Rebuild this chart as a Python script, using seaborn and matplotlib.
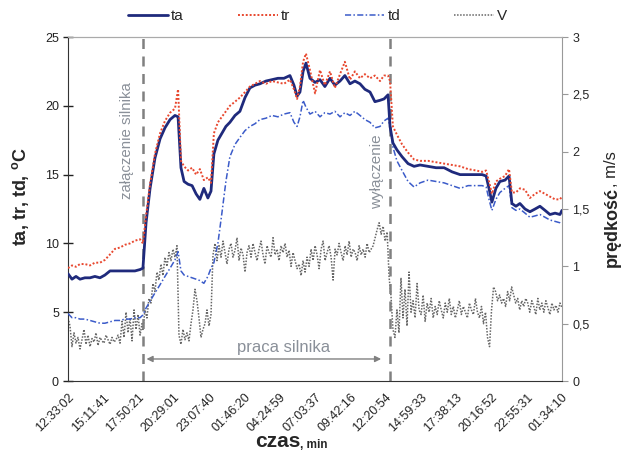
import matplotlib
matplotlib.use("Agg")
import matplotlib.pyplot as plt
import numpy as np
import seaborn as sns

# time of temperature samples, minutes from 12:33:02
temp_time = [0, 18, 36, 54, 76, 99, 121, 144, 166, 189, 211, 234, 256, 279, 301, 324,
             337, 351, 369, 391, 414, 436, 459, 481, 495, 508, 522, 540, 558, 576, 593,
             611, 629, 643, 656, 674, 692, 710, 728, 751, 773, 796, 818, 841, 863, 890,
             917, 944, 971, 998, 1016, 1030, 1043, 1057, 1070, 1088, 1111, 1133, 1155,
             1178, 1200, 1223, 1245, 1268, 1290, 1313, 1335, 1358, 1380, 1403, 1421,
             1439, 1448, 1461, 1479, 1502, 1529, 1556, 1583, 1619, 1655, 1691, 1727,
             1763, 1799, 1835, 1862, 1880, 1893, 1906, 1924, 1942, 1965, 1983, 1996,
             2014, 2032, 2055, 2077, 2100, 2122, 2145, 2167, 2190, 2212, 2221]

ta = [7.8, 7.4, 7.6, 7.4, 7.5, 7.5, 7.6, 7.5, 7.7, 8.0, 8.0, 8.0, 8.0, 8.0, 8.0, 8.1,
      8.2, 11.5, 14.0, 16.2, 17.6, 18.4, 19.0, 19.3, 19.2, 15.5, 14.5, 14.3, 14.2, 13.6,
      13.2, 14.0, 13.3, 13.8, 16.5, 17.5, 18.0, 18.5, 18.8, 19.3, 19.6, 20.6, 21.3, 21.5,
      21.6, 21.8, 21.9, 22.0, 22.0, 22.2, 21.5, 20.7, 21.0, 22.5, 23.1, 22.0, 21.7, 21.9,
      21.4, 22.0, 21.5, 21.8, 22.2, 21.6, 21.8, 21.6, 21.2, 21.0, 20.3, 20.4, 20.5, 20.8,
      18.5, 17.3, 16.8, 16.3, 15.8, 15.6, 15.7, 15.6, 15.5, 15.5, 15.2, 15.0, 15.0, 15.0,
      15.0, 14.9, 14.0, 13.0, 14.0, 14.5, 14.6, 14.9, 12.9, 12.7, 12.9, 12.5, 12.3, 12.5,
      12.7, 12.4, 12.1, 12.2, 12.1, 12.4]

tr = [8.2, 8.4, 8.3, 8.5, 8.5, 8.4, 8.6, 8.6, 8.8, 9.2, 9.6, 9.7, 9.9, 10.0, 10.2, 10.3,
      10.0, 12.0, 14.3, 16.5, 18.0, 18.9, 19.5, 19.8, 21.2, 16.0, 15.6, 15.3, 15.5, 15.0,
      15.4, 14.6, 14.8, 14.4, 18.0, 18.8, 19.2, 19.6, 20.0, 20.3, 20.6, 21.0, 21.4, 21.6,
      21.8, 21.6, 21.8, 21.7, 21.6, 21.9, 21.2, 20.5, 21.4, 23.2, 23.8, 22.6, 20.9, 22.6,
      21.5, 22.5, 21.3, 22.3, 23.2, 21.9, 22.5, 22.0, 22.3, 22.0, 22.2, 21.8, 22.2, 22.2,
      21.8, 18.5, 17.9, 17.2, 16.6, 16.1, 16.0, 16.0, 15.9, 15.8, 15.7, 15.6, 15.4, 15.3,
      15.2, 15.3, 14.5, 13.6, 14.5, 14.7, 14.9, 15.4, 13.7, 13.7, 14.0, 13.9, 13.3, 13.6,
      13.8, 13.6, 13.4, 13.2, 13.2, 13.4]

td = [4.9, 4.6, 4.6, 4.5, 4.5, 4.4, 4.3, 4.2, 4.2, 4.3, 4.4, 4.4, 4.5, 4.5, 4.6, 4.6,
      4.8, 5.3, 5.8, 6.4, 7.0, 7.6, 8.2, 8.8, 9.4, 8.0, 7.7, 7.6, 7.5, 7.4, 7.3, 7.1, 7.6,
      8.2, 8.6, 10.0, 12.2, 14.5, 16.3, 17.2, 17.7, 18.2, 18.5, 18.7, 19.0, 19.1, 19.3,
      19.2, 19.4, 19.5, 18.8, 18.5, 19.2, 20.4, 19.9, 19.4, 19.6, 19.2, 19.5, 19.4, 19.6,
      19.2, 19.5, 19.3, 19.6, 19.3, 19.0, 18.8, 18.4, 18.5, 18.9, 19.1, 18.5, 17.0, 16.0,
      15.3, 14.5, 14.1, 14.4, 14.6, 14.5, 14.4, 14.2, 14.0, 14.2, 14.2, 14.2, 14.1, 13.2,
      12.4, 13.2, 13.7, 14.0, 14.2, 12.6, 12.4, 12.5, 12.2, 11.9, 12.0, 12.1, 11.9, 11.7,
      11.6, 11.5, 11.4]

# wind speed V [m/s] in three periods: before, during and after engine work
v_before = [0.55, 0.48, 0.30, 0.42, 0.33, 0.38, 0.28, 0.36, 0.45, 0.32, 0.40, 0.30, 0.37,
            0.34, 0.42, 0.31, 0.38, 0.35, 0.33, 0.40, 0.36, 0.32, 0.38, 0.34, 0.36, 0.40,
            0.33, 0.52, 0.38, 0.60, 0.42, 0.55, 0.35, 0.62, 0.45, 0.58, 0.40, 0.50]
v_run = [0.45, 0.62, 0.55, 0.72, 0.68, 0.85, 0.78, 0.95, 0.88, 1.02, 0.92, 1.08, 1.00, 1.12,
         1.05, 1.15, 1.08, 1.18,
         0.40, 0.32, 0.45, 0.36, 0.42, 0.35, 0.50, 0.62, 0.80, 0.70, 0.55, 0.38, 0.45, 0.50,
         0.62, 0.48, 0.58,
         1.10, 1.20, 1.05, 1.18, 1.08, 1.22, 1.12, 1.02, 1.15, 1.20, 1.08, 1.14, 1.25, 1.05,
         1.16, 1.10, 0.95, 1.12, 1.18,
         1.08, 1.20, 1.12, 1.05, 1.15, 1.22, 1.10, 1.02, 1.18, 1.12, 1.08, 1.25, 1.10, 1.15,
         1.05, 1.18, 1.12, 1.20, 1.08, 1.14, 1.00, 1.12, 1.05, 0.98,
         1.02, 0.92, 1.05, 0.95, 1.08, 1.00, 1.15, 1.05, 1.18, 1.10, 0.98, 1.15, 1.22, 1.05,
         1.12, 1.18, 1.08, 0.88, 1.15, 1.10, 1.20,
         1.12, 1.05, 1.18, 1.10, 1.22, 1.08, 1.15, 1.12, 1.05, 1.18, 1.10, 1.15, 1.08, 1.20,
         1.12, 1.15, 1.18, 1.25, 1.32, 1.38, 1.28, 1.35, 1.22, 1.30, 0.90]
v_after = [0.75, 0.45, 0.38, 0.62, 0.42, 0.90, 0.55, 0.80, 0.48, 0.95, 0.60,
           0.70, 0.55, 0.85, 0.62, 0.58, 0.75, 0.52, 0.68, 0.60, 0.72, 0.55, 0.65, 0.58,
           0.70, 0.62, 0.55, 0.68, 0.60, 0.72, 0.58, 0.65, 0.55, 0.62, 0.70, 0.58, 0.65,
           0.60, 0.55, 0.68, 0.62, 0.58, 0.72, 0.60, 0.55, 0.65, 0.50, 0.60,
           0.38, 0.30, 0.62, 0.82,
           0.78, 0.70, 0.75, 0.68, 0.72, 0.65, 0.78, 0.70, 0.82, 0.75, 0.68, 0.72, 0.62,
           0.70, 0.65, 0.72, 0.68, 0.60, 0.70, 0.65, 0.58, 0.72, 0.62, 0.68, 0.60, 0.70,
           0.64, 0.58, 0.68, 0.62, 0.66, 0.60, 0.68, 0.64]

engine_on = 337    # minutes
engine_off = 1448
total_time = 2221.1

time_labels = ["12:33:02", "15:11:41", "17:50:21", "20:29:01", "23:07:40", "01:46:20",
               "04:24:59", "07:03:37", "09:42:16", "12:20:54", "14:59:33", "17:38:13",
               "20:16:52", "22:55:31", "01:34:10"]

TA_COLOR = "#1f2a7c"
TR_COLOR = "#e8472e"
TD_COLOR = "#3b5bc9"
V_COLOR = "#666666"
NOTE_COLOR = "#8a9099"

sns.set_style("white")
plt.rcParams["font.family"] = ["Liberation Sans", "DejaVu Sans"]

fig = plt.figure(figsize=(6.22, 4.57), dpi=100)
ax = fig.add_axes([0.1093, 0.1663, 0.7942, 0.7527])
ax2 = ax.twinx()

v_time = np.concatenate([
    np.linspace(0, engine_on - 4, len(v_before)),
    np.linspace(engine_on, engine_off - 4, len(v_run)),
    np.linspace(engine_off + 4, total_time, len(v_after)),
])
v_speed = v_before + v_run + v_after

sns.lineplot(x=v_time, y=v_speed, ax=ax2, color=V_COLOR, lw=1.1,
             linestyle=(0, (1, 1)), label="V", legend=False)
sns.lineplot(x=temp_time, y=td, ax=ax, color=TD_COLOR, lw=1.1,
             linestyle=(0, (4, 1.5, 1, 1.5)), label="td", legend=False, zorder=3)
sns.lineplot(x=temp_time, y=ta, ax=ax, color=TA_COLOR, lw=2.0, label="ta",
             legend=False, zorder=4)
sns.lineplot(x=temp_time, y=tr, ax=ax, color=TR_COLOR, lw=1.4,
             linestyle=(0, (1, 1)), label="tr", legend=False, zorder=5)

ax.set_zorder(ax2.get_zorder() + 1)
ax.patch.set_visible(False)

# engine on / off markers
for x in (engine_on, engine_off):
    ax.axvline(x, color="#808080", lw=1.8, ls=(0, (4, 3)), zorder=2)
ax.annotate("", xy=(engine_on + 16, 1.6), xytext=(engine_off - 40, 1.6),
            arrowprops=dict(arrowstyle="<|-|>", color="#808080", lw=1.0,
                            mutation_scale=9, shrinkA=0, shrinkB=0))
ax.text(971, 2.4, "praca silnika", color=NOTE_COLOR, fontsize=12,
        ha="center", va="center")
ax.text(265, 17.5, "załączenie silnika", color=NOTE_COLOR, fontsize=10.8,
        rotation=90, ha="center", va="center")
ax.text(1390, 15.2, "wyłączenie", color=NOTE_COLOR, fontsize=11,
        rotation=90, ha="center", va="center")

ax.set_xlim(0, total_time)
ax.set_ylim(0, 25)
ax2.set_ylim(0, 3)

ticks = np.linspace(0, total_time, 2 * len(time_labels) - 1)
labels = [time_labels[i // 2] if i % 2 == 0 else "" for i in range(len(ticks))]
ax.set_xticks(ticks)
ax.set_xticklabels(labels, rotation=45, ha="right", rotation_mode="anchor")
ax.set_yticks(range(0, 26, 5))
ax.tick_params(axis="both", direction="inout", length=7, width=1, colors="#222222",
               labelsize=9, pad=3)
ax.tick_params(axis="x", labelsize=9, pad=4)

v_ticks = [0, 0.5, 1, 1.5, 2, 2.5, 3]
ax2.set_yticks(v_ticks)
ax2.set_yticklabels([f"{t:g}".replace(".", ",") for t in v_ticks], fontsize=9)
ax2.tick_params(axis="y", direction="out", length=4, color="#999999", labelsize=9)

for name in ("left", "bottom"):
    ax.spines[name].set_color("#333333")
    ax2.spines[name].set_visible(False)
ax.spines["top"].set_color("#aaaaaa")
ax.spines["right"].set_visible(False)
ax2.spines["right"].set_color("#999999")
ax2.spines["top"].set_color("#aaaaaa")

# axis titles
ax.text(-0.097, 0.535, r"ta, tr, td, $\mathregular{^{o}}$C", transform=ax.transAxes,
        rotation=90, fontsize=13, fontweight="bold", ha="center", va="center")
ax.text(1.101, 0.565, "prędkość", transform=ax.transAxes, rotation=90, fontsize=13,
        fontweight="bold", ha="center", va="top")
ax.text(1.101, 0.565, ", m/s", transform=ax.transAxes, rotation=90, fontsize=12,
        ha="center", va="bottom")
ax.text(0.47, -0.148, "czas", transform=ax.transAxes, fontsize=15, fontweight="bold",
        ha="right", va="top")
ax.text(0.47, -0.168, ", min", transform=ax.transAxes, fontsize=8.5, fontweight="bold",
        ha="left", va="top")

handles = [ax.lines[1], ax.lines[2], ax.lines[0], ax2.lines[0]]
fig.legend(handles, ["ta", "tr", "td", "V"], loc="center", ncol=4,
           bbox_to_anchor=(0.511, 0.965), frameon=False, fontsize=11,
           handlelength=2.6, columnspacing=3.55, handletextpad=0.2)

fig.savefig("out.png", dpi=100)
